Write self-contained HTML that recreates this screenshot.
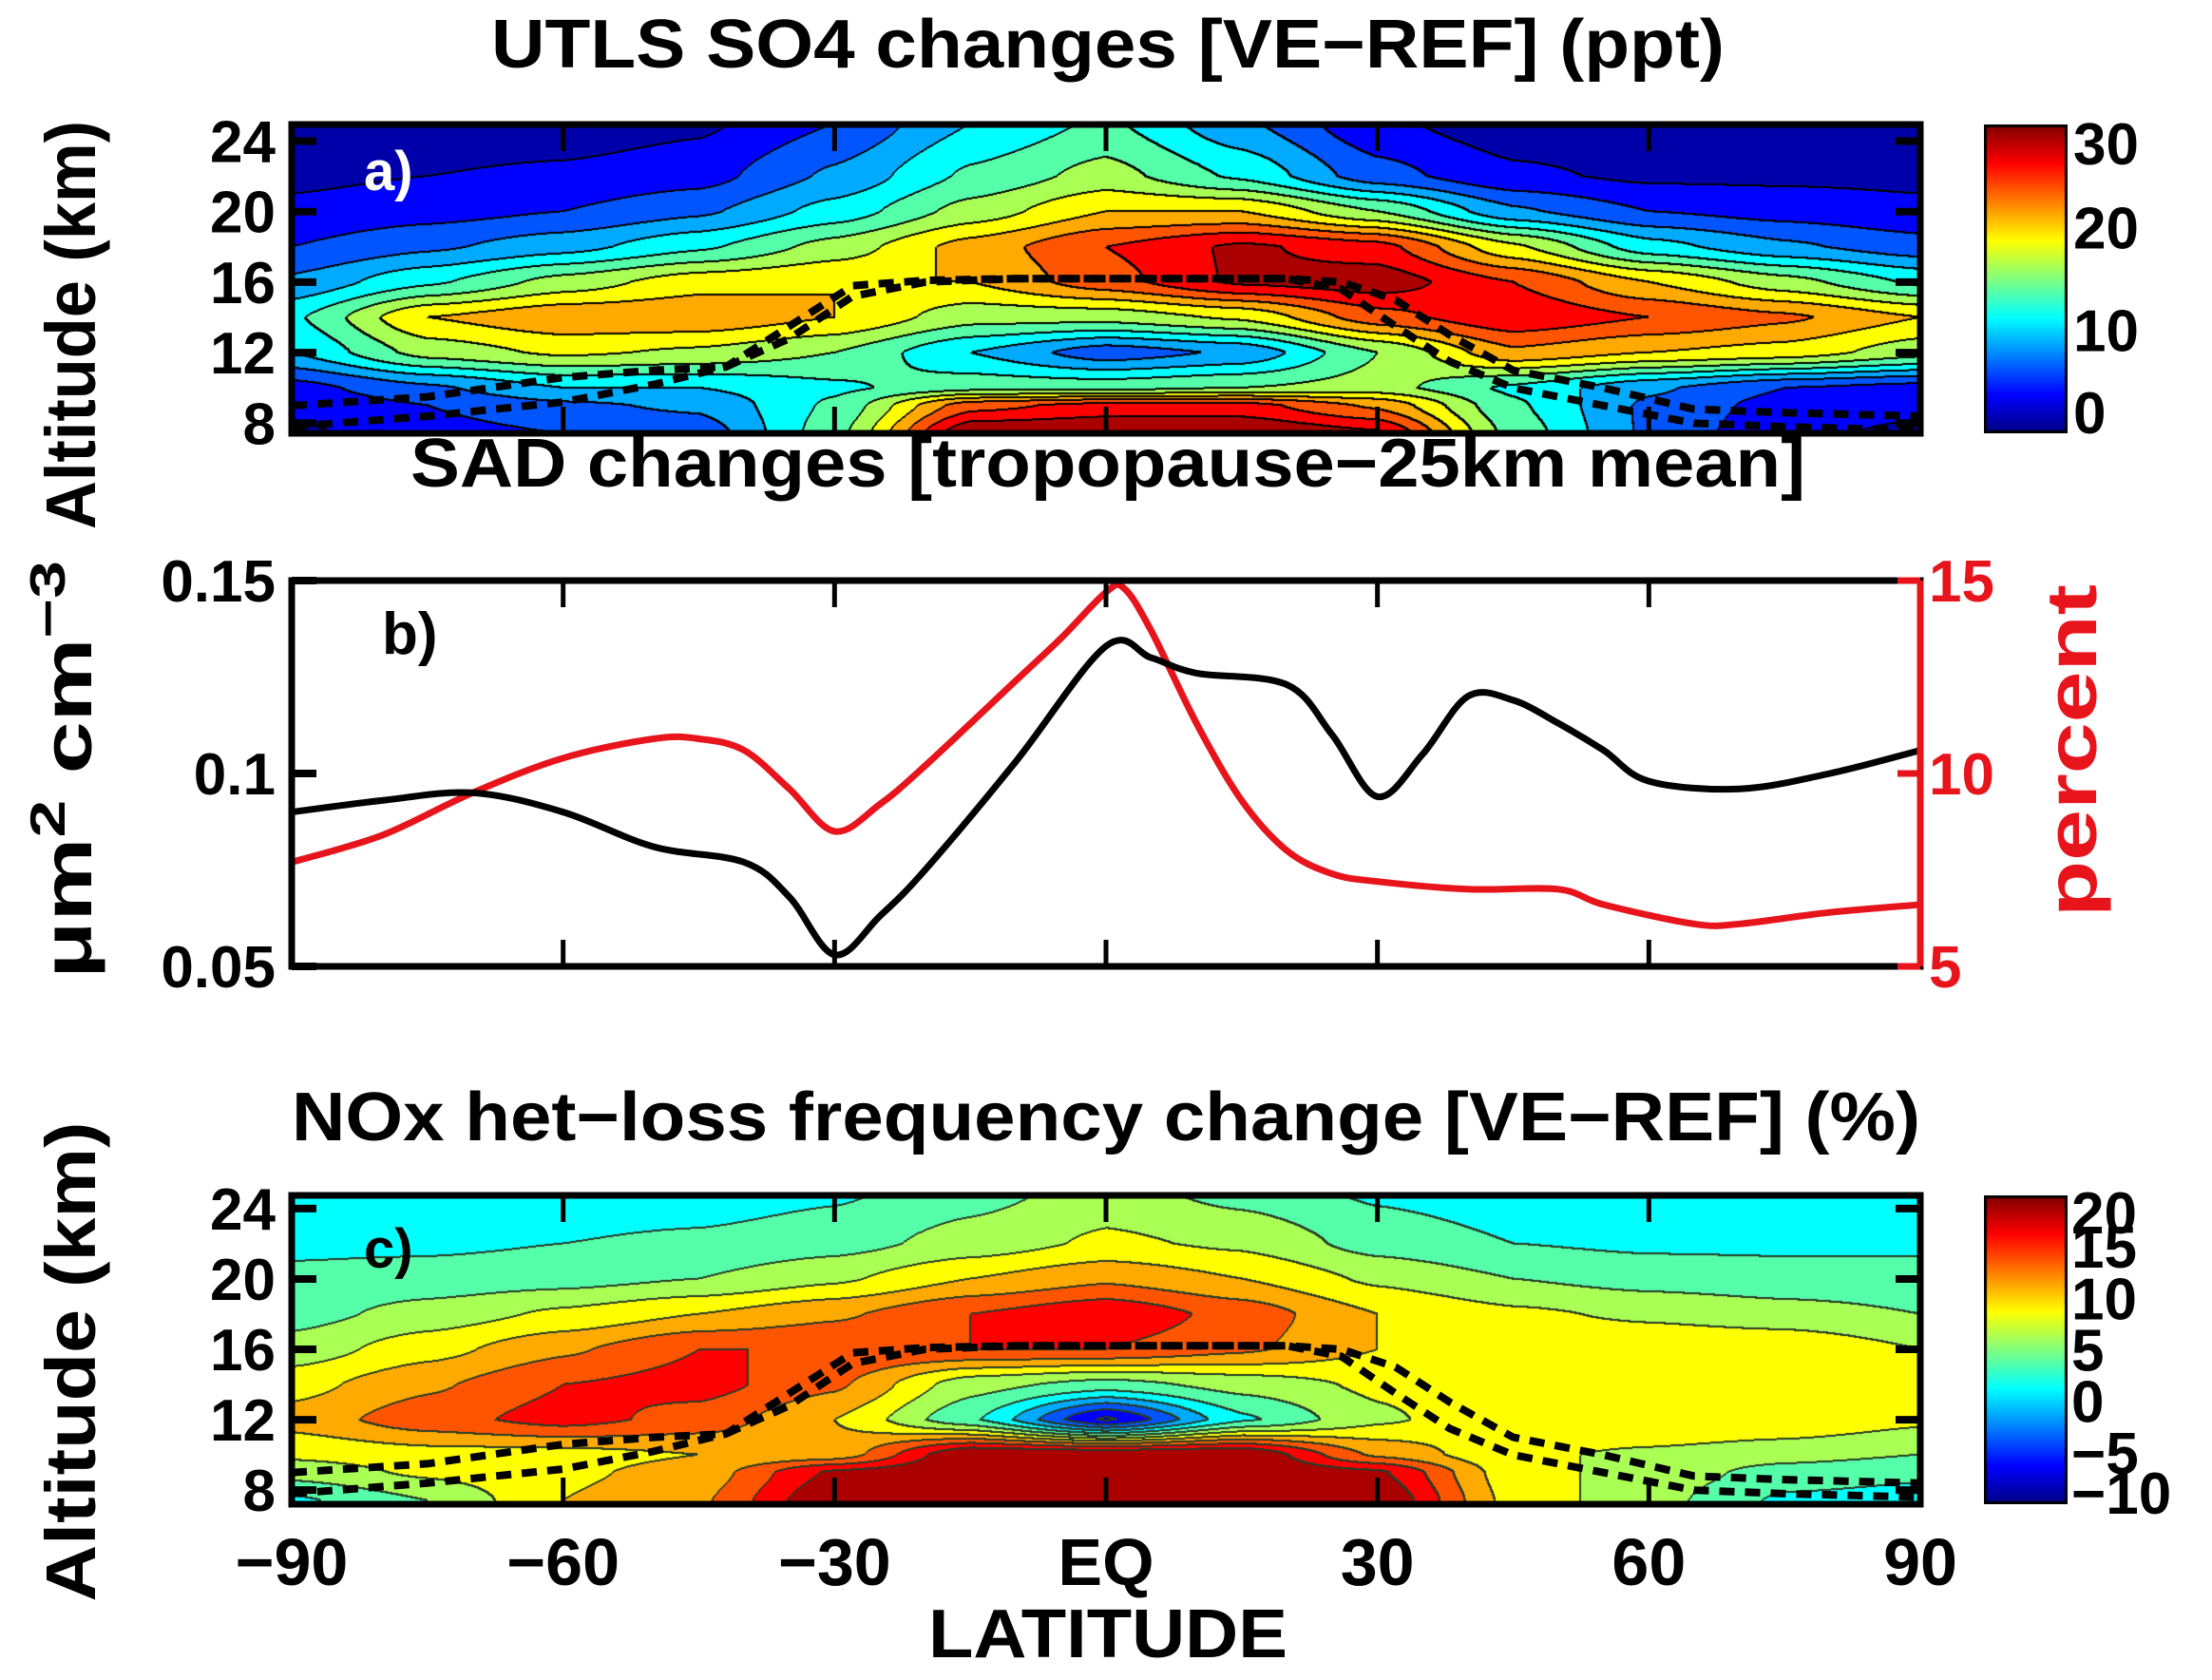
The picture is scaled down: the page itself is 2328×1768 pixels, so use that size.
<!DOCTYPE html>
<html><head><meta charset="utf-8">
<style>
html,body{margin:0;padding:0;background:#fff;}
#root{position:relative;width:2328px;height:1768px;overflow:hidden;background:#fff;font-family:"Liberation Sans",sans-serif;}
canvas{position:absolute;}
svg{position:absolute;left:0;top:0;}
text{font-family:"Liberation Sans",sans-serif;font-weight:bold;}
</style></head>
<body>
<div id="root">
<canvas id="cva"></canvas>
<canvas id="cvc"></canvas>
<canvas id="cba"></canvas>
<canvas id="cbc"></canvas>
<svg id="ov" width="2328" height="1768"></svg>
</div>
<script>
// ---------- data ----------
const gridLats = [-90,-75,-60,-45,-30,-15,0,15,30,45,60,75,90];
const gridAlts = [7.4,9,10,12,14,16,18,20,22,25];
const so4Values = [
 [2,4,5,6,14,30,30,30,28,14,7,3,2],
 [3,5,7,8,13,24,26,26,22,13,7,4,3],
 [4,7,10,10,12,14,14,15,16,12,8,5,4],
 [10,16,18,17,15,10,6,8,15,22,20,19,16],
 [12,20,22,22,20,16,16,18,24,27,25,23,20],
 [8,12,16,19,20,20,24,28,29,25,20,16,12],
 [5,7,9,12,16,21,25,28,26,18,11,8,6],
 [3,4,5,7,11,16,20,20,15,8,5,4,3],
 [2,2.5,3,4,8,13,16,12,6,3,2,2,2],
 [1,1,1,2,5,10,13,8,3,1,1,1,1]
];
const noxValues = [
 [2,5,10,12,20,20,20,20,20,9,6,2,1.5],
 [6,8,9.5,11,18,20,20,20,18,8.5,6.5,4,3],
 [8,9,9,10,11,20,20,20,12,8,7,6,5],
 [11,14,16,14,10,3,-8,2,7,9.5,10,9.5,8],
 [9,12,15,16,13,6,4,6,8,9.5,10,10,8.5],
 [6,9,12,15,15,15,15,13,10,9.5,9.5,9.5,7.5],
 [4,6,8,10,12,15,17,14,10,8,7,6,5],
 [3,3.5,4,5,7,10,12,10,7,5,4,3.5,3.5],
 [2,2,2.5,3,4,6,8,7,4,2.5,2,2,2],
 [1,1,1,1,2,4,6,4,2,1,1,1,1]
];
const tropoLats = [-90,-75,-60,-50,-42,-35,-28,-20,-10,0,10,20,26,32,38,45,55,65,75,90];
const tropoAlt1 = [9,9.5,10.6,11,11.2,12.8,15.2,16,16.2,16.2,16.2,16.2,16,15,13,11,10,8.8,8.6,8.4];
const tropoAlt2 = [7.8,8.4,9.2,10.2,11.2,13.5,15.8,16.1,16.2,16.2,16.2,16.2,15.6,13.5,11.5,10,9,8,7.8,7.6];
const sadLats = [-90,-80,-70,-60,-50,-40,-35,-30,-25,-20,-10,0,5,10,20,25,30,35,40,45,50,55,60,70,80,90];
const sadValues = [0.090,0.093,0.095,0.090,0.081,0.077,0.068,0.053,0.063,0.075,0.103,0.133,0.130,0.126,0.123,0.110,0.094,0.105,0.120,0.119,0.113,0.106,0.098,0.096,0.100,0.106];
const pctLats = [-90,-80,-70,-60,-50,-45,-40,-35,-30,-25,-20,-10,-5,0,2,5,10,15,20,25,30,40,50,55,65,70,80,90];
const pctValues = [7.7,8.4,9.5,10.4,10.9,10.9,10.6,9.6,8.5,9.2,10.2,12.4,13.5,14.7,14.8,13.7,11.3,9.3,8.0,7.4,7.2,7.0,7.0,6.6,6.1,6.1,6.4,6.6];
const latTicks = [-90,-60,-30,0,30,60,90];
const latTickLabels = ['−90','−60','−30','EQ','30','60','90'];
const altTicks = [8,12,16,20,24];
const so4CbTicks = [0,10,20,30];
const noxCbTicks = [-10,-5,0,5,10,15,20];
const sadTicks = [0.05,0.1,0.15];
const sadTickLabels = ['0.05','0.1','0.15'];
const pctTicks = [5,10,15];

// ---------- geometry ----------
const X0=307, X1=2021;
const PA={y0:131,y1:456,a0:7.43,a1:24.94,min:0,max:30,step:2.5};
const PB={y0:611,y1:1017};
const PC={y0:1258,y1:1583,a0:7.2,a1:24.75,min:-10,max:20,step:2.5};
const xs = lat => X0 + (lat+90)/180*(X1-X0);
function ys(P,alt){return P.y1 - (alt-P.a0)/(P.a1-P.a0)*(P.y1-P.y0);}
const yb = v => PB.y1 - (v-0.05)/0.1*(PB.y1-PB.y0);
const yp = v => PB.y1 - (v-5)/10*(PB.y1-PB.y0);

function jet(t){
  t=Math.max(0,Math.min(1,t));
  const c=v=>Math.round(255*Math.max(0,Math.min(1,v)));
  return [c(1.5-Math.abs(4*t-3)),c(1.5-Math.abs(4*t-2)),c(1.5-Math.abs(4*t-1))];
}
function bracket(arr,v){
  let i=0; while(i<arr.length-2 && v>arr[i+1]) i++;
  let f=(v-arr[i])/(arr[i+1]-arr[i]); f=Math.max(0,Math.min(1,f));
  return [i,f];
}
function sm(f){return f*f*(3-2*f)*0.5+f*0.5;}
function sample(vals,lat,alt){
  let [i,fx]=bracket(gridLats,lat), [j,fy]=bracket(gridAlts,alt);
  fx=sm(fx); fy=sm(fy);
  const a=vals[j][i],b=vals[j][i+1],c=vals[j+1][i],d=vals[j+1][i+1];
  return (a*(1-fx)+b*fx)*(1-fy)+(c*(1-fx)+d*fx)*fy;
}
function drawField(id,P,vals,lineCol){
  const cv=document.getElementById(id);
  const w=X1-X0,h=P.y1-P.y0;
  cv.width=w;cv.height=h;cv.style.left=X0+'px';cv.style.top=P.y0+'px';
  const ctx=cv.getContext('2d'),img=ctx.createImageData(w,h);
  const lev=new Int16Array(w*h);
  const n=Math.round((P.max-P.min)/P.step);
  for(let y=0;y<h;y++){
    const alt=P.a1-(y/h)*(P.a1-P.a0);
    for(let x=0;x<w;x++){
      const lat=-90+x/w*180;
      const v=sample(vals,lat,alt);
      let k=Math.floor((v-P.min)/P.step); k=Math.max(0,Math.min(n-1,k));
      lev[y*w+x]=k;
    }
  }
  for(let y=0;y<h;y++)for(let x=0;x<w;x++){
    const k=lev[y*w+x];
    let col=jet((k+0.5)/n);
    const edge=(x<w-1&&lev[y*w+x+1]!==k)||(y<h-1&&lev[(y+1)*w+x]!==k)||(x<w-2&&lev[y*w+x+2]!==k)||(y<h-2&&lev[(y+2)*w+x]!==k);
    if(edge) col=lineCol;
    const p=(y*w+x)*4; img.data[p]=col[0];img.data[p+1]=col[1];img.data[p+2]=col[2];img.data[p+3]=255;
  }
  ctx.putImageData(img,0,0);
}
drawField('cva',PA,so4Values,[0,0,0]);
drawField('cvc',PC,noxValues,[40,60,40]);
function drawCb(id,y0,y1){
  const cv=document.getElementById(id);
  cv.width=88;cv.height=y1-y0;cv.style.left='2088px';cv.style.top=y0+'px';
  const ctx=cv.getContext('2d');
  for(let y=0;y<cv.height;y++){const c=jet(1-y/cv.height);ctx.fillStyle=`rgb(${c})`;ctx.fillRect(0,y,88,1);}
  ctx.strokeStyle='#000';ctx.lineWidth=3;ctx.strokeRect(1.5,1.5,85,cv.height-3);
}
drawCb('cba',PA.y0,PA.y1);
drawCb('cbc',PC.y0,PC.y1);

// ---------- svg ----------
const NS='http://www.w3.org/2000/svg', ov=document.getElementById('ov');
function el(tag,attrs,txt){const e=document.createElementNS(NS,tag);for(const k in attrs)e.setAttribute(k,attrs[k]);if(txt!==undefined)e.textContent=txt;ov.appendChild(e);return e;}
function txt(s,x,y,size,anchor,fill,name,extra){
  const e=el('text',Object.assign({x:x,y:y,'font-size':size,'text-anchor':anchor||'start',fill:fill||'#000'},extra||{}),s);
  
  
  return e;
}
function linePath(lats,vals,fx,fy){return lats.map((l,i)=>(i?'L':'M')+fx(l).toFixed(1)+','+fy(vals[i]).toFixed(1)).join(' ');}
function smoothPath(lats,vals,fx,fy){
  const p=lats.map((l,i)=>[fx(l),fy(vals[i])]);
  let d='M'+p[0][0].toFixed(1)+','+p[0][1].toFixed(1);
  for(let i=0;i<p.length-1;i++){
    const p0=p[Math.max(0,i-1)],p1=p[i],p2=p[i+1],p3=p[Math.min(p.length-1,i+2)];
    const c1=[p1[0]+(p2[0]-p0[0])/6,p1[1]+(p2[1]-p0[1])/6];
    const c2=[p2[0]-(p3[0]-p1[0])/6,p2[1]-(p3[1]-p1[1])/6];
    d+=` C${c1[0].toFixed(1)},${c1[1].toFixed(1)} ${c2[0].toFixed(1)},${c2[1].toFixed(1)} ${p2[0].toFixed(1)},${p2[1].toFixed(1)}`;
  }
  return d;
}

// tropopause
[[PA,'so4'],[PC,'nox']].forEach(([P,nm])=>{
  [tropoAlt1,tropoAlt2].forEach((arr,k)=>{
    const p=el('path',{d:linePath(tropoLats,arr,xs,a=>ys(P,a)),fill:'none',stroke:'#000','stroke-width':8,'stroke-dasharray':'16 11'});
    
    
  });
});
// frames and ticks
function frame(y0,y1,name,yticks,rightticks){
  const r=el('rect',{x:X0,y:y0,width:X1-X0,height:y1-y0,fill:'none',stroke:'#000','stroke-width':7});
  
  
  latTicks.slice(1,-1).forEach(l=>{
    el('line',{x1:xs(l),x2:xs(l),y1:y0,y2:y0+28,stroke:'#000','stroke-width':5});
    el('line',{x1:xs(l),x2:xs(l),y1:y1,y2:y1-28,stroke:'#000','stroke-width':5});
  });
  yticks.forEach(y=>{el('line',{x1:X0,x2:X0+26,y1:y,y2:y,stroke:'#000','stroke-width':8});
    if(rightticks) el('line',{x1:X1,x2:X1-26,y1:y,y2:y,stroke:'#000','stroke-width':8});});
}
frame(PA.y0,PA.y1,'so4-plot-frame',altTicks.map(a=>ys(PA,a)),true);
frame(PC.y0,PC.y1,'nox-plot-frame',altTicks.map(a=>ys(PC,a)),true);
// panel b lines
let pb=el('path',{d:smoothPath(pctLats,pctValues,xs,yp),fill:'none',stroke:'#e8141c','stroke-width':7,'stroke-linejoin':'round'});


let sb=el('path',{d:smoothPath(sadLats,sadValues,xs,yb),fill:'none',stroke:'#000','stroke-width':7,'stroke-linejoin':'round'});


frame(PB.y0,PB.y1,'sad-plot-frame',sadTicks.map(yb),false);
let rax=el('line',{x1:X1,x2:X1,y1:PB.y0,y2:PB.y1,stroke:'#e8141c','stroke-width':7});


pctTicks.forEach(v=>el('line',{x1:X1,x2:X1-24,y1:yp(v),y2:yp(v),stroke:'#e8141c','stroke-width':7}));

// titles
txt('UTLS SO4 changes [VE−REF] (ppt)',1166,71,72,'middle','#000','so4-title',{textLength:1298,lengthAdjust:'spacingAndGlyphs'});
txt('SAD changes [tropopause−25km mean]',1166,512,72,'middle','#000','sad-title',{textLength:1468,lengthAdjust:'spacingAndGlyphs'});
txt('NOx het−loss frequency change [VE−REF] (%)',1164,1200,72,'middle','#000','nox-title',{textLength:1714,lengthAdjust:'spacingAndGlyphs'});
txt('a)',383,200,58,'start','#fff','panel-a-label');
txt('b)',402,688,62,'start','#000','panel-b-label');
txt('c)',383,1334,58,'start','#000','panel-c-label');
// alt tick labels
[[PA,'so4'],[PC,'nox']].forEach(([P,nm])=>altTicks.forEach(a=>txt(String(a),290,ys(P,a)+22,62,'end','#000',nm+'-y-tick-'+a)));
// axis titles
txt('Altitude (km)',0,0,74,'middle','#000','so4-y-axis-title',{transform:'translate(100,342) rotate(-90)',textLength:430,lengthAdjust:'spacingAndGlyphs'});
txt('Altitude (km)',0,0,74,'middle','#000','nox-y-axis-title',{transform:'translate(100,1433) rotate(-90)',textLength:505,lengthAdjust:'spacingAndGlyphs'});
const yl=txt('μm',0,0,72,'middle','#000','sad-y-axis-title',{transform:'translate(96,810) rotate(-90)'});
yl.textContent='';
['μm','2',' cm','−3'].forEach((s,i)=>{const t=document.createElementNS(NS,'tspan');t.textContent=s;if(i%2){t.setAttribute('dy','-28');t.setAttribute('font-size','52');}else if(i==2){t.setAttribute('dy','28');}yl.appendChild(t);});
yl.setAttribute('textLength','440');yl.setAttribute('lengthAdjust','spacingAndGlyphs');
txt('percent',0,0,74,'middle','#e8141c','percent-axis-title',{transform:'translate(2206,790) rotate(-90)',textLength:350,lengthAdjust:'spacingAndGlyphs'});
// sad ticks
sadTicks.forEach((v,i)=>txt(sadTickLabels[i],290,yb(v)+22,62,'end','#000','sad-y-tick-'+i));
pctTicks.forEach(v=>txt(String(v),2030,yp(v)+22,62,'start','#e8141c','percent-tick-'+v));
// colorbar labels
so4CbTicks.forEach(v=>txt(String(v),2182,PA.y1-(v/30)*(PA.y1-PA.y0)+(v==30?42:v==0?0:22),62,'start','#000','so4-cb-label-'+v));
noxCbTicks.forEach(v=>txt(String(v).replace('-','−'),2180,PC.y1-((v+10)/30)*(PC.y1-PC.y0)+(v==20?40:v==-10?10:22),62,'start','#000','nox-cb-label-'+v));
// x ticks
latTicks.forEach((l,i)=>txt(latTickLabels[i],xs(l),1668,70,'middle','#000','x-tick-'+latTickLabels[i]));
txt('LATITUDE',1166,1744,72,'middle','#000','x-axis-title',{textLength:378,lengthAdjust:'spacingAndGlyphs'});
</script>
</body></html>
